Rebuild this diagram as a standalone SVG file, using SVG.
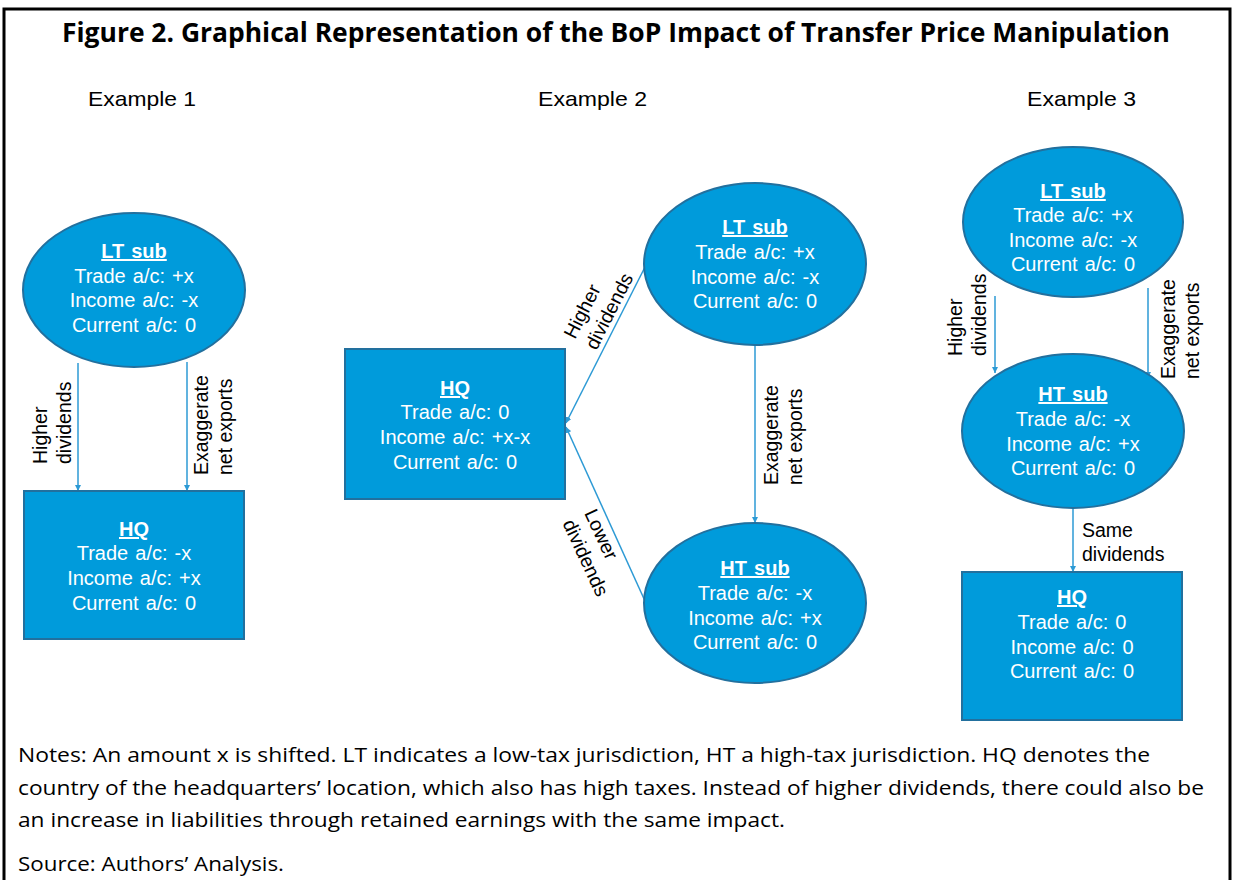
<svg xmlns="http://www.w3.org/2000/svg" width="1236" height="880" viewBox="0 0 1236 880">
  <style>
    .frame { fill: none; stroke: #000; stroke-width: 3; }
    .title { font-family: "Open Sans", "Liberation Sans", sans-serif; font-weight: bold; font-size: 26px; fill: #000; }
    .ex { font-family: "Liberation Sans", Arial, sans-serif; font-size: 21px; fill: #000; }
    .node { fill: #009bdb; stroke: #22709e; stroke-width: 2; }
    .nt { font-family: "Liberation Sans", Arial, sans-serif; font-size: 20px; word-spacing: 1.5px; fill: #fff; text-anchor: middle; }
    .nh { font-weight: bold; text-decoration: underline; }
    .conn { stroke: #2d9ad5; stroke-width: 1.5; fill: none; marker-end: url(#arr); }
    .lbl { font-family: "Liberation Sans", Arial, sans-serif; font-size: 19.5px; fill: #000; }
    .note { font-family: "Open Sans", "Noto Sans", sans-serif; font-size: 19.5px; fill: #000; }
  </style>
  <defs>
    <marker id="arr" viewBox="0 0 10 10" refX="10" refY="5" markerWidth="6" markerHeight="6" markerUnits="userSpaceOnUse" orient="auto">
      <path d="M0,0 L10,5 L0,10 z" fill="#2d9ad5"/>
    </marker>
  </defs>

  <rect class="frame" x="4" y="9" width="1226" height="900"/>

  <text class="title" x="616" y="42" text-anchor="middle" textLength="1108" lengthAdjust="spacingAndGlyphs">Figure 2. Graphical Representation of the BoP Impact of Transfer Price Manipulation</text>

  <text class="ex" x="88" y="106" textLength="108" lengthAdjust="spacingAndGlyphs">Example 1</text>
  <text class="ex" x="538" y="106" textLength="109" lengthAdjust="spacingAndGlyphs">Example 2</text>
  <text class="ex" x="1027" y="106" textLength="109" lengthAdjust="spacingAndGlyphs">Example 3</text>

  <!-- connectors -->
  <g id="connectors">
    <line class="conn" x1="78" y1="363" x2="78" y2="491"/>
    <line class="conn" x1="187" y1="362" x2="187" y2="491"/>
    <line class="conn" x1="645" y1="267" x2="566" y2="423"/>
    <line class="conn" x1="645" y1="601" x2="566" y2="427"/>
    <line class="conn" x1="755" y1="345" x2="755" y2="523"/>
    <line class="conn" x1="995" y1="296" x2="995" y2="373"/>
    <line class="conn" x1="1148" y1="288" x2="1148" y2="378"/>
    <line class="conn" x1="1073" y1="508" x2="1073" y2="572"/>

    <!-- connector labels (two-line, start-aligned along the connector) -->
    <g class="lbl">
      <g transform="translate(47,464) rotate(-90)">
        <text x="0" y="0">Higher</text>
        <text x="0" y="24">dividends</text>
      </g>
      <g transform="translate(208,475) rotate(-90)">
        <text x="0" y="0">Exaggerate</text>
        <text x="0" y="24">net exports</text>
      </g>
      <g transform="translate(575,340) rotate(-63)">
        <text x="0" y="0">Higher</text>
        <text x="0" y="24">dividends</text>
      </g>
      <g transform="translate(584,513) rotate(65)">
        <text x="0" y="0">Lower</text>
        <text x="0" y="24">dividends</text>
      </g>
      <g transform="translate(778,485) rotate(-90)">
        <text x="0" y="0">Exaggerate</text>
        <text x="0" y="24">net exports</text>
      </g>
      <g transform="translate(962,356) rotate(-90)">
        <text x="0" y="0">Higher</text>
        <text x="0" y="24">dividends</text>
      </g>
      <g transform="translate(1175,379) rotate(-90)">
        <text x="0" y="0">Exaggerate</text>
        <text x="0" y="24">net exports</text>
      </g>
      <text x="1082" y="537">Same</text>
      <text x="1082" y="561">dividends</text>
    </g>
  </g>

  <!-- Example 1 -->
  <g id="ex1-lt-sub">
    <ellipse class="node" cx="134" cy="290" rx="111" ry="77"/>
    <text class="nt" x="134" y="258"><tspan class="nh">LT sub</tspan></text>
    <text class="nt" x="134" y="283">Trade a/c: +x</text>
    <text class="nt" x="134" y="307">Income a/c: -x</text>
    <text class="nt" x="134" y="332">Current a/c: 0</text>
  </g>
  <g id="ex1-hq">
    <rect class="node" x="24" y="491" width="220" height="148"/>
    <text class="nt" x="134" y="536"><tspan class="nh">HQ</tspan></text>
    <text class="nt" x="134" y="560">Trade a/c: -x</text>
    <text class="nt" x="134" y="585">Income a/c: +x</text>
    <text class="nt" x="134" y="610">Current a/c: 0</text>
  </g>

  <!-- Example 2 -->
  <g id="ex2-lt-sub">
    <ellipse class="node" cx="755" cy="264" rx="111" ry="81"/>
    <text class="nt" x="755" y="234"><tspan class="nh">LT sub</tspan></text>
    <text class="nt" x="755" y="259">Trade a/c: +x</text>
    <text class="nt" x="755" y="284">Income a/c: -x</text>
    <text class="nt" x="755" y="308">Current a/c: 0</text>
  </g>
  <g id="ex2-hq">
    <rect class="node" x="345" y="349" width="220" height="150"/>
    <text class="nt" x="455" y="395"><tspan class="nh">HQ</tspan></text>
    <text class="nt" x="455" y="419">Trade a/c: 0</text>
    <text class="nt" x="455" y="444">Income a/c: +x-x</text>
    <text class="nt" x="455" y="469">Current a/c: 0</text>
  </g>
  <g id="ex2-ht-sub">
    <ellipse class="node" cx="755" cy="603" rx="111" ry="80"/>
    <text class="nt" x="755" y="575"><tspan class="nh">HT sub</tspan></text>
    <text class="nt" x="755" y="600">Trade a/c: -x</text>
    <text class="nt" x="755" y="625">Income a/c: +x</text>
    <text class="nt" x="755" y="649">Current a/c: 0</text>
  </g>

  <!-- Example 3 -->
  <g id="ex3-lt-sub">
    <ellipse class="node" cx="1073" cy="222" rx="110" ry="75"/>
    <text class="nt" x="1073" y="198"><tspan class="nh">LT sub</tspan></text>
    <text class="nt" x="1073" y="222">Trade a/c: +x</text>
    <text class="nt" x="1073" y="247">Income a/c: -x</text>
    <text class="nt" x="1073" y="271">Current a/c: 0</text>
  </g>
  <g id="ex3-ht-sub">
    <ellipse class="node" cx="1073" cy="431" rx="111" ry="77"/>
    <text class="nt" x="1073" y="401"><tspan class="nh">HT sub</tspan></text>
    <text class="nt" x="1073" y="426">Trade a/c: -x</text>
    <text class="nt" x="1073" y="451">Income a/c: +x</text>
    <text class="nt" x="1073" y="475">Current a/c: 0</text>
  </g>
  <g id="ex3-hq">
    <rect class="node" x="962" y="572" width="220" height="148"/>
    <text class="nt" x="1072" y="604"><tspan class="nh">HQ</tspan></text>
    <text class="nt" x="1072" y="629">Trade a/c: 0</text>
    <text class="nt" x="1072" y="654">Income a/c: 0</text>
    <text class="nt" x="1072" y="678">Current a/c: 0</text>
  </g>

  <!-- notes -->
  <text class="note" x="18" y="762" textLength="1132" lengthAdjust="spacingAndGlyphs">Notes: An amount x is shifted. LT indicates a low-tax jurisdiction, HT a high-tax jurisdiction. HQ denotes the</text>
  <text class="note" x="18" y="795" textLength="1186" lengthAdjust="spacingAndGlyphs">country of the headquarters’ location, which also has high taxes. Instead of higher dividends, there could also be</text>
  <text class="note" x="18" y="827" textLength="767" lengthAdjust="spacingAndGlyphs">an increase in liabilities through retained earnings with the same impact.</text>
  <text class="note" x="18" y="871" textLength="266" lengthAdjust="spacingAndGlyphs">Source: Authors’ Analysis.</text>
</svg>
